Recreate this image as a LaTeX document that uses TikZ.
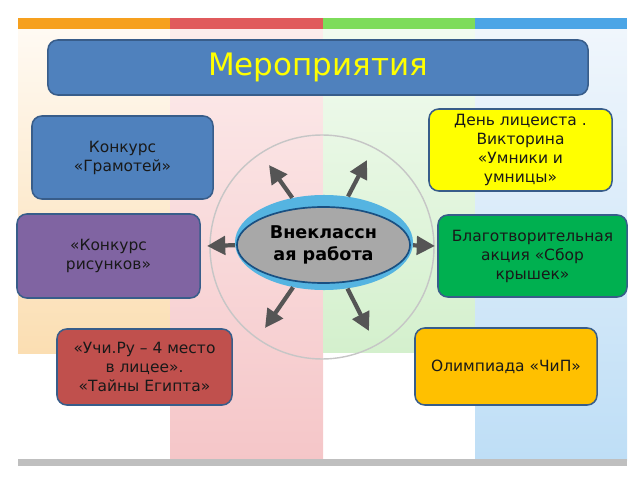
\documentclass[tikz,border=0pt]{standalone}
\usepackage{fontspec}
\setmainfont{DejaVu Sans}
\usetikzlibrary{arrows.meta,shapes.geometric}
\definecolor{boxedge}{RGB}{56,93,138}
\definecolor{tileblue}{RGB}{79,129,189}
\definecolor{tilepurple}{RGB}{128,100,162}
\definecolor{tilered}{RGB}{192,80,77}
\definecolor{tileyellow}{RGB}{255,255,0}
\definecolor{tilegreen}{RGB}{0,176,80}
\definecolor{tileorange}{RGB}{255,192,0}
\definecolor{spokegray}{RGB}{85,85,85}
\definecolor{halocyan}{RGB}{85,180,225}
\definecolor{coregray}{RGB}{168,168,168}
\definecolor{coreedge}{RGB}{25,80,130}
\definecolor{barorange}{RGB}{246,160,30}
\definecolor{barred}{RGB}{224,90,92}
\definecolor{bargreen}{RGB}{125,220,90}
\definecolor{barblue}{RGB}{75,165,230}
\definecolor{orangetop}{RGB}{255,250,243}
\definecolor{orangebot}{RGB}{251,222,178}
\definecolor{pinktop}{RGB}{252,236,236}
\definecolor{pinkbot}{RGB}{245,198,200}
\definecolor{greentop}{RGB}{242,251,240}
\definecolor{greenbot}{RGB}{212,240,205}
\definecolor{bluetop}{RGB}{240,246,252}
\definecolor{bluebot}{RGB}{190,222,246}
\begin{document}
\begin{tikzpicture}[x=0.025cm, y=-0.025cm,
  box/.style={draw=boxedge, line width=1.1pt, rounded corners=7pt, align=center,
    font=\fontsize{11}{13.5}\selectfont, text=black!90, inner sep=2pt},
  spoke/.style={draw=spokegray, line width=3pt, -{Triangle[length=13pt,width=13pt]}}]
  \useasboundingbox (0,0) rectangle (640,480);
  %% Background stripes
  \shade[top color=orangetop, bottom color=orangebot] (18,29) rectangle (170,353);
  \shade[top color=pinktop, bottom color=pinkbot] (170,29) rectangle (323,460);
  \shade[top color=greentop, bottom color=greenbot] (323,29) rectangle (475,352);
  \shade[top color=bluetop, bottom color=bluebot] (475,29) rectangle (627,460);
  %% Top bar and bottom rule
  \foreach \i/\col in {0/barorange,1/barred,2/bargreen,3/barblue}{
    \fill[\col] ({18+152.25*\i},18) rectangle ++(152.25,11);
  }
  \fill[gray!50] (18,459) rectangle (627,466);
  %% Ring
  \draw[gray!45, line width=1pt] (322,247) circle[radius=112];
  %% Title
  \node[box, fill=tileblue, minimum width=13.5cm, minimum height=1.375cm,
    font=\fontsize{22}{26}\selectfont, text=tileyellow] (title) at (318,67.5) {Мероприятия};
  %% Activities
  \node[box, fill=tileblue, minimum width=4.525cm, minimum height=2.075cm] (gram) at (122.5,157.5)
    {Конкурс\\«Грамотей»};
  \node[box, fill=tilepurple, minimum width=4.575cm, minimum height=2.1cm] (pics) at (108.5,256)
    {«Конкурс\\рисунков»};
  \node[box, fill=tilered, minimum width=4.375cm, minimum height=1.9cm] (uchi) at (144.5,367)
    {«Учи.Ру – 4 место\\в лицее».\\ «Тайны Египта»};
  \node[box, fill=tileyellow, minimum width=4.575cm, minimum height=2.05cm] (lyceum) at (520.5,150)
    {День лицеиста .\\Викторина\\«Умники и\\умницы»};
  \node[box, fill=tilegreen, minimum width=4.725cm, minimum height=2.05cm] (charity) at (532.5,256)
    {Благотворительная\\акция «Сбор\\крышек»};
  \node[box, fill=tileorange, minimum width=4.55cm, minimum height=1.925cm] (chip) at (506,366.5)
    {Олимпиада «ЧиП»};
  %% Centre
  \node[ellipse, fill=halocyan, inner sep=0pt, minimum width=4.45cm, minimum height=2.375cm] (halo) at (324,242.5) {};
  \node[ellipse, fill=coregray, draw=coreedge, line width=1.2pt, minimum width=4.325cm, minimum height=1.9cm,
    align=center, font=\bfseries\fontsize{12.5}{15.5}\selectfont] (work) at (323.5,245) {Внеклассн\\ая работа};
  %% Spokes
  \coordinate (tipnw) at (269,165);
  \coordinate (tipne) at (367,160);
  \coordinate (tipw)  at (207,246);
  \coordinate (tipe)  at (435,246);
  \coordinate (tipsw) at (265,328);
  \coordinate (tipse) at (369,331);
  \foreach \t in {tipnw,tipne,tipw,tipe,tipsw,tipse}{
    \draw[spoke] (halo) -- (\t);
  }
\end{tikzpicture}
\end{document}
